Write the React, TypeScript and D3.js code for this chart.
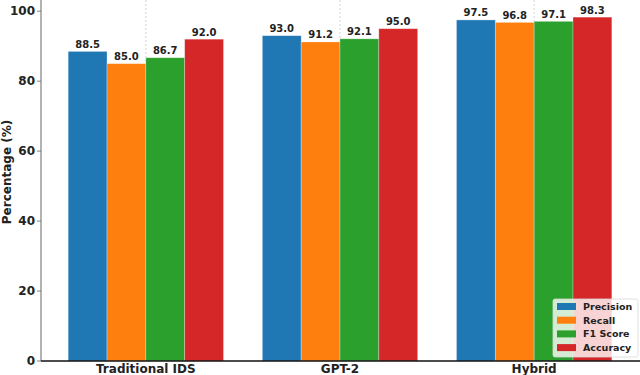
import React, { useEffect, useRef } from "react"
import * as d3 from "d3"

const categories = ["Traditional IDS", "GPT-2", "Hybrid"]
const metrics = ["Precision", "Recall", "F1 Score", "Accuracy"]
const precision = [88.5, 93.0, 97.5]
const recall = [85.0, 91.2, 96.8]
const f1Score = [86.7, 92.1, 97.1]
const accuracy = [92.0, 95.0, 98.3]
const yTicks = [0, 20, 40, 60, 80, 100]

const colors = ["#1f77b4", "#ff7f0e", "#2ca02c", "#d62728"]
const series = [precision, recall, f1Score, accuracy]

export default function App() {
  const ref = useRef<SVGSVGElement>(null)

  useEffect(() => {
    document.body.style.margin = "0"
    const width = 640, height = 375
    const left = 41, bottom = 361, top = 0, right = 639

    const svg = d3.select(ref.current)
    svg.selectAll("*").remove()
    svg.attr("width", width).attr("height", height)
      .style("font-family", "'DejaVu Sans', sans-serif")

    // category positions 0..2 with matplotlib-like margins
    const x = d3.scaleLinear().domain([-0.54, 2.54]).range([left, right])
    const y = d3.scaleLinear().domain([0, 103.2]).range([bottom, top])
    const barW = 0.2

    // vertical dotted grid at category centres
    svg.append("g").selectAll("line")
      .data(categories)
      .enter().append("line")
      .attr("x1", (d, i) => x(i)).attr("x2", (d, i) => x(i))
      .attr("y1", top).attr("y2", bottom)
      .attr("stroke", "#c8c8c8")
      .attr("stroke-width", 0.8)
      .attr("stroke-dasharray", "2,2")

    // bars
    series.forEach((vals, s) => {
      const offset = (s - 1.5) * barW
      const g = svg.append("g")
      g.selectAll("rect")
        .data(vals)
        .enter().append("rect")
        .attr("x", (d, i) => x(i + offset - barW / 2))
        .attr("y", d => y(d))
        .attr("width", x(barW) - x(0))
        .attr("height", d => bottom - y(d))
        .attr("fill", colors[s])
        .attr("stroke", "#ffffff")
        .attr("stroke-opacity", 0.35)
        .attr("stroke-width", 0.8)
      g.selectAll("text")
        .data(vals)
        .enter().append("text")
        .attr("x", (d, i) => x(i + offset))
        .attr("y", d => y(d) - 3.5)
        .attr("text-anchor", "middle")
        .attr("font-size", 10)
        .attr("font-weight", "bold")
        .attr("fill", "#222")
        .text(d => d.toFixed(1))
    })

    // y axis
    svg.append("line")
      .attr("x1", left).attr("x2", left)
      .attr("y1", top).attr("y2", bottom)
      .attr("stroke", "#666").attr("stroke-width", 1)
    const yt = svg.append("g").selectAll("g")
      .data(yTicks)
      .enter().append("g")
      .attr("transform", d => "translate(0," + y(d) + ")")
    yt.append("line")
      .attr("x1", left - 4).attr("x2", left)
      .attr("stroke", "#666").attr("stroke-width", 0.8)
    yt.append("text")
      .attr("x", left - 6)
      .attr("dy", "0.35em")
      .attr("text-anchor", "end")
      .attr("font-size", 12)
      .attr("font-weight", "bold")
      .attr("fill", "#222")
      .text(d => d)

    svg.append("text")
      .attr("transform", "translate(11,172) rotate(-90)")
      .attr("text-anchor", "middle")
      .attr("font-size", 12)
      .attr("font-weight", "bold")
      .attr("fill", "#222")
      .text("Percentage (%)")

    // x axis
    svg.append("line")
      .attr("x1", left).attr("x2", width)
      .attr("y1", bottom).attr("y2", bottom)
      .attr("stroke", "#111").attr("stroke-width", 1.5)
    svg.append("g").selectAll("text")
      .data(categories)
      .enter().append("text")
      .attr("x", (d, i) => x(i))
      .attr("y", 373)
      .attr("text-anchor", "middle")
      .attr("font-size", 12)
      .attr("font-weight", "bold")
      .attr("fill", "#222")
      .text(d => d)

    // legend
    const lg = svg.append("g").attr("transform", "translate(553,299)")
    lg.append("rect")
      .attr("width", 85).attr("height", 58)
      .attr("rx", 2)
      .attr("fill", "#ffffff").attr("fill-opacity", 0.8)
      .attr("stroke", "#d8d8d8").attr("stroke-width", 0.8)
    const items = lg.selectAll("g.item")
      .data(metrics)
      .enter().append("g")
      .attr("class", "item")
      .attr("transform", (d, i) => "translate(0," + (7.5 + i * 13.7) + ")")
    items.append("rect")
      .attr("x", 4).attr("y", -3.5)
      .attr("width", 19).attr("height", 7)
      .attr("fill", (d, i) => colors[i])
    items.append("text")
      .attr("x", 30)
      .attr("dy", "0.35em")
      .attr("font-size", 9.5)
      .attr("font-weight", "bold")
      .attr("fill", "#222")
      .text(d => d)
  }, [])

  return <svg ref={ref} style={{ display: "block" }}></svg>
}
